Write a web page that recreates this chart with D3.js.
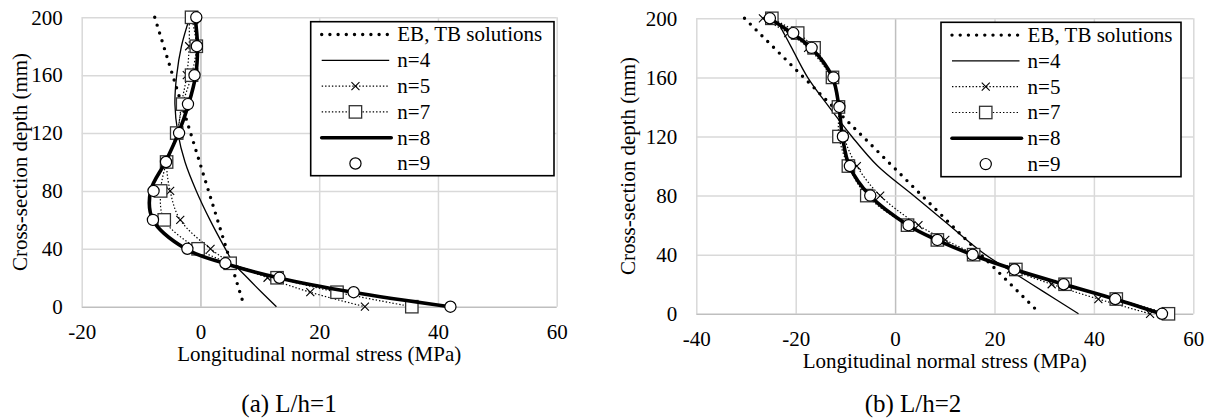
<!DOCTYPE html>
<html>
<head>
<meta charset="utf-8">
<script src="https://cdn.jsdelivr.net/npm/d3@7"></script>
<style>
  html, body { margin: 0; padding: 0; background: #fff; }
</style>
</head>
<body>
<svg id="fig" width="1209" height="420"></svg>
<script>
// Depth stations through the section (mm)
const depthA = [200, 180, 160, 140, 120, 100, 80, 60, 40, 30, 20, 10, 0];
const depthB = [200, 190, 180, 160, 140, 120, 100, 80, 60, 50, 40, 30, 20, 10, 0];
const ebDepth = [200, 0];

// (a) L/h=1 : longitudinal normal stress (MPa)
const ebA = [-7.7, 7.4];
const n4A = [-1.8, -3.2, -4.0, -4.3, -3.8, -2.6, -0.7, 1.6, 4.2, 5.6, 7.9, 10.3, 12.8];
const n5A = [-1.9, -1.9, -2.3, -3.2, -3.9, -5.6, -5.1, -3.4, 1.7, 5.4, 11.3, 18.5, 27.7];
const n7A = [-1.5, -0.7, -1.5, -3.0, -4.0, -5.7, -6.7, -6.1, -0.4, 5.0, 12.9, 23.0, 35.6];
const n8A = [-0.9, -0.5, -0.8, -2.0, -3.7, -5.9, -8.4, -8.0, -2.5, 4.0, 13.1, 25.6, 42.0];
const n9A = [-0.7, -0.6, -1.0, -2.1, -3.6, -5.8, -7.9, -8.0, -2.2, 4.2, 13.3, 25.8, 42.1];

// (b) L/h=2 : longitudinal normal stress (MPa)
const ebB = [-30.3, 29.2];
const n4B = [-24.0, -22.4, -20.8, -17.6, -13.3, -8.7, -3.5, 3.7, 10.9, 14.4, 18.2, 22.8, 27.5, 32.2, 36.9];
const n5B = [-26.6, -21.5, -17.5, -12.9, -11.3, -10.3, -7.7, -3.0, 4.7, 10.1, 16.3, 23.3, 31.5, 40.9, 51.3];
const n7B = [-24.8, -19.6, -16.3, -12.6, -11.4, -11.3, -9.4, -5.7, 2.5, 8.5, 15.8, 24.3, 34.2, 44.5, 55.0];
const n8B = [-25.3, -20.8, -16.9, -12.6, -11.3, -10.6, -9.2, -5.1, 2.6, 8.4, 15.5, 24.0, 33.9, 44.2, 53.5];
const n9B = [-25.2, -20.5, -16.8, -12.4, -11.2, -10.5, -9.1, -5.0, 2.7, 8.5, 15.6, 24.0, 33.9, 44.3, 53.7];

// Axis ticks and labels
const xTicksA = [-20, 0, 20, 40, 60];
const xTicksB = [-40, -20, 0, 20, 40, 60];
const yTicks = [0, 40, 80, 120, 160, 200];
const legendLabels = ["EB, TB solutions", "n=4", "n=5", "n=7", "n=8", "n=9"];
const captions = ["(a) L/h=1", "(b) L/h=2"];
const xTitle = "Longitudinal normal stress (MPa)";
const yTitle = "Cross-section depth (mm)";

// ---- drawing ----
const SERIF = "'Liberation Serif', 'Times New Roman', Times, serif";
const FONT = 21;

const svg = d3.select("#fig").style("font-family", SERIF);
svg.append("rect").attr("width", 1209).attr("height", 420).attr("fill", "#fff");

function txt(sel, size) {
  return sel.style("font-family", SERIF).style("font-size", size + "px").attr("fill", "#000");
}

// Line / marker style per series (same order as legendLabels)
const styles = [
  { stroke: "#000", width: 3.4, dash: "0 8.2", cap: "round", curve: d3.curveLinear, line: true, marker: null },
  { stroke: "#000", width: 1.3, dash: null, cap: "butt", curve: d3.curveCatmullRom, line: true, marker: null },
  { stroke: "#000", width: 1.2, dash: "1.4 2", cap: "butt", curve: d3.curveCatmullRom, line: true, marker: "cross" },
  { stroke: "#000", width: 1.2, dash: "1.4 2", cap: "butt", curve: d3.curveCatmullRom, line: true, marker: "square" },
  { stroke: "#000", width: 3.6, dash: null, cap: "butt", curve: d3.curveCatmullRom, line: true, marker: null },
  { stroke: "#000", width: 0, dash: null, cap: "butt", curve: d3.curveLinear, line: false, marker: "circle" }
];

function drawMarker(sel, kind, cx, cy) {
  if (kind === "cross") {
    const h = 4;
    sel.append("path")
      .attr("d", `M${cx - h},${cy - h}L${cx + h},${cy + h}M${cx - h},${cy + h}L${cx + h},${cy - h}`)
      .attr("stroke", "#000").attr("stroke-width", 1.1).attr("fill", "none");
  } else if (kind === "square") {
    const h = 6.2;
    sel.append("rect")
      .attr("x", cx - h).attr("y", cy - h).attr("width", 2 * h).attr("height", 2 * h)
      .attr("fill", "#fff").attr("stroke", "#333").attr("stroke-width", 1.3);
  } else if (kind === "circle") {
    sel.append("circle")
      .attr("cx", cx).attr("cy", cy).attr("r", 5.6)
      .attr("fill", "#fff").attr("stroke", "#000").attr("stroke-width", 1.2);
  }
}

function panel(cfg) {
  const g = svg.append("g");
  const x = d3.scaleLinear()
    .domain([cfg.xTicks[0], cfg.xTicks[cfg.xTicks.length - 1]])
    .range([cfg.left, cfg.right]);
  const y = d3.scaleLinear().domain([0, 200]).range([cfg.bottom, cfg.top]);
  const w = cfg.right - cfg.left, h = cfg.bottom - cfg.top;
  const plain = d => String(d);   // hyphen-minus, as in the printed figure

  // vertical gridlines + x tick labels
  const xa = g.append("g")
    .attr("transform", `translate(0,${cfg.bottom})`)
    .call(d3.axisBottom(x).tickValues(cfg.xTicks).tickSize(-h).tickPadding(17).tickFormat(plain));
  // horizontal gridlines + y tick labels
  const ya = g.append("g")
    .attr("transform", `translate(${cfg.left},0)`)
    .call(d3.axisLeft(y).tickValues(yTicks).tickSize(-w).tickPadding(19).tickFormat(plain));

  [xa, ya].forEach(a => {
    a.attr("font-family", null).attr("font-size", null);
    a.select(".domain").remove();
    a.selectAll(".tick line")
      .attr("stroke", d => d === 0 ? "#bfbfbf" : "#d9d9d9")
      .attr("stroke-width", 1.5);
    txt(a.selectAll(".tick text"), FONT);
  });
  // keep the zero lines above the other gridlines
  xa.selectAll(".tick").filter(d => d === 0).raise();
  ya.selectAll(".tick").filter(d => d === 0).raise();

  // series
  const series = [
    { depth: ebDepth, vals: cfg.eb },
    { depth: cfg.depth, vals: cfg.n4 },
    { depth: cfg.depth, vals: cfg.n5 },
    { depth: cfg.depth, vals: cfg.n7 },
    { depth: cfg.depth, vals: cfg.n8 },
    { depth: cfg.depth, vals: cfg.n9 }
  ];
  series.forEach((s, i) => {
    const st = styles[i];
    const pts = s.vals.map((v, k) => ({ v: v, d: s.depth[k] }));
    const sg = g.append("g");
    if (st.line) {
      const line = d3.line().x(p => x(p.v)).y(p => y(p.d)).curve(st.curve);
      sg.append("path").datum(pts)
        .attr("d", line)
        .attr("fill", "none")
        .attr("stroke", st.stroke)
        .attr("stroke-width", st.width)
        .attr("stroke-dasharray", st.dash)
        .attr("stroke-linecap", st.cap)
        .attr("stroke-linejoin", "round");
    }
    if (st.marker) pts.forEach(p => drawMarker(sg, st.marker, x(p.v), y(p.d)));
  });

  // axis titles
  txt(g.append("text"), FONT)
    .attr("x", (cfg.left + cfg.right) / 2).attr("y", cfg.bottom + 54)
    .attr("text-anchor", "middle")
    .text(xTitle);
  txt(g.append("text"), FONT)
    .attr("transform", `translate(${cfg.yTitleX},${(cfg.top + cfg.bottom) / 2}) rotate(-90)`)
    .attr("text-anchor", "middle").attr("dy", "0.35em")
    .text(yTitle);

  // legend
  const L = cfg.legend;
  const lg = g.append("g");
  lg.append("rect")
    .attr("x", L.x).attr("y", L.y).attr("width", L.w).attr("height", L.h)
    .attr("fill", "#fff").attr("stroke", "#000").attr("stroke-width", 1.6);
  legendLabels.forEach((lab, i) => {
    const st = styles[i];
    const ry = L.y + 12.8 + i * 25.8;
    const x1 = L.x + 11, x2 = L.x + 78.5, xm = (x1 + x2) / 2;
    if (st.line) {
      lg.append("line")
        .attr("x1", x1).attr("x2", i === 4 ? x2 + 2 : x2).attr("y1", ry).attr("y2", ry)
        .attr("stroke", st.stroke).attr("stroke-width", st.width)
        .attr("stroke-dasharray", st.dash).attr("stroke-linecap", i === 4 ? "round" : st.cap);
    }
    if (st.marker) drawMarker(lg, st.marker, xm, ry);
    txt(lg.append("text"), FONT)
      .attr("x", L.x + 86.6).attr("y", ry).attr("dy", "0.33em")
      .text(lab);
  });

  // caption
  txt(g.append("text"), 25)
    .attr("x", cfg.capX).attr("y", 411.5)
    .attr("text-anchor", "middle")
    .text(cfg.caption);
}

panel({
  left: 81.7, right: 556.7, top: 17.3, bottom: 306.7,
  xTicks: xTicksA, depth: depthA,
  eb: ebA, n4: n4A, n5: n5A, n7: n7A, n8: n8A, n9: n9A,
  yTitleX: 19.5,
  legend: { x: 310.7, y: 21.7, w: 243.3, h: 154 },
  caption: captions[0], capX: 289
});

panel({
  left: 696.3, right: 1193.3, top: 18.3, bottom: 313.8,
  xTicks: xTicksB, depth: depthB,
  eb: ebB, n4: n4B, n5: n5B, n7: n7B, n8: n8B, n9: n9B,
  yTitleX: 627.5,
  legend: { x: 941, y: 22.3, w: 240, h: 154.4 },
  caption: captions[1], capX: 913
});
</script>
</body>
</html>
